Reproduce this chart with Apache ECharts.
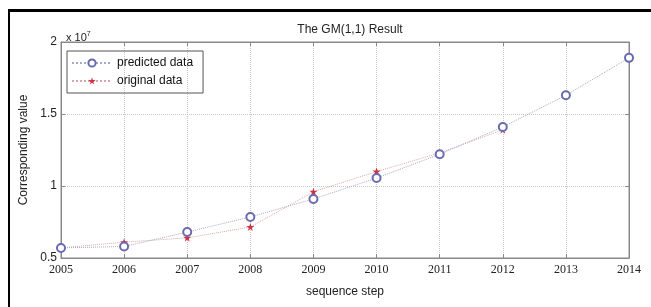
<!DOCTYPE html>
<html>
<head>
<meta charset="utf-8">
<script src="https://cdn.jsdelivr.net/npm/echarts@6/dist/echarts.min.js"></script>
<style>
	html, body { margin: 0; padding: 0; background: #fff; }
	#frame { position: absolute; left: 8px; top: 9px; width: 643px; height: 298px; border-left: 2px solid #000; border-top: 3px solid #000; }
	#chart { width: 651px; height: 307px; position: absolute; left: 0; top: 0; }
</style>
</head>
<body>
<div id="frame"></div>
<div id="chart"></div>
<script>
	// values in units of 10^7
	const years = [2005, 2006, 2007, 2008, 2009, 2010, 2011, 2012, 2013, 2014]
	const predicted = [0.57, 0.58, 0.68, 0.785, 0.91, 1.055, 1.22, 1.41, 1.63, 1.89]
	const original = [0.57, 0.61, 0.64, 0.715, 0.96, 1.10, 1.23, 1.39]

	const starPath = 'path://M4,0L5,3L8,3L5.5,5L6.5,8L4,6L1.5,8L2.5,5L0,3L3,3Z'
	const chart = echarts.init(document.getElementById('chart'))

	const option = {
		animation: false,
		title: [{
			text: 'The GM(1,1) Result',
			left: 345,
			top: 19,
			textAlign: 'center',
			textStyle: { fontFamily: 'Liberation Sans', fontSize: 12, fontWeight: 'normal', color: '#222' }
		}, {
			text: '{b|x 10}{s|7}',
			left: 61,
			top: 26,
			textStyle: {
				fontWeight: 'normal',
				rich: {
					b: { fontFamily: 'Liberation Sans', fontSize: 11, fontWeight: 'normal', color: '#222' },
					s: { fontFamily: 'Liberation Sans', fontSize: 7, fontWeight: 'normal', color: '#222', verticalAlign: 'top', padding: [0, 0, 6, 0] }
				}
			}
		}],
		legend: {
			orient: 'vertical',
			left: 67,
			top: 51,
			itemWidth: 40,
			itemHeight: 9,
			itemGap: 6,
			padding: [6, 10, 6, 4],
			borderColor: '#555',
			borderWidth: 1,
			textStyle: { fontFamily: 'Liberation Sans', fontSize: 12, color: '#111' },
			data: ['predicted data', 'original data']
		},
		grid: {
			left: 61, top: 42, right: 22, bottom: 49,
			show: true, borderColor: '#888', borderWidth: 1
		},
		xAxis: [{
			type: 'value',
			min: 2005, max: 2014, interval: 1,
			name: 'sequence step',
			nameLocation: 'middle',
			nameGap: 28,
			nameTextStyle: { fontFamily: 'Liberation Sans', fontSize: 12, color: '#222' },
			axisLine: { lineStyle: { color: '#888' } },
			axisTick: { inside: true, length: 4, lineStyle: { color: '#888' } },
			axisLabel: { fontFamily: 'Liberation Serif', fontSize: 12, color: '#222', margin: 6, formatter: v => String(v) },
			splitLine: { show: true, lineStyle: { color: '#c8c8c8', type: 'dotted' } }
		}, {
			type: 'value', position: 'top',
			min: 2005, max: 2014, interval: 1,
			axisLine: { lineStyle: { color: '#888' } },
			axisTick: { inside: true, length: 4, lineStyle: { color: '#888' } },
			axisLabel: { show: false },
			splitLine: { show: false }
		}],
		yAxis: [{
			type: 'value',
			min: 0.5, max: 2, interval: 0.5,
			name: 'Corresponding value',
			nameLocation: 'middle',
			nameGap: 27,
			nameTextStyle: { fontFamily: 'Liberation Sans', fontSize: 12, color: '#222' },
			axisLine: { lineStyle: { color: '#888' } },
			axisTick: { inside: true, length: 4, lineStyle: { color: '#888' } },
			axisLabel: { fontFamily: 'Liberation Sans', fontSize: 12, color: '#222', margin: 4 },
			splitLine: { show: true, lineStyle: { color: '#c8c8c8', type: 'dotted' } }
		}, {
			type: 'value', position: 'right',
			min: 0.5, max: 2, interval: 0.5,
			axisLine: { lineStyle: { color: '#888' } },
			axisTick: { inside: true, length: 4, lineStyle: { color: '#888' } },
			axisLabel: { show: false },
			splitLine: { show: false }
		}],
		series: [{
			name: 'predicted data',
			type: 'line',
			data: years.map((y, i) => [y, predicted[i]]),
			symbol: 'emptyCircle',
			symbolSize: 8,
			lineStyle: { color: '#a8a8c8', width: 1, type: 'dotted' },
			itemStyle: { color: '#6a6ab0', borderColor: '#6a6ab0', borderWidth: 1 },
			z: 3
		}, {
			name: 'original data',
			type: 'line',
			data: original.map((v, i) => [years[i], v]),
			symbol: starPath,
			symbolSize: 8,
			lineStyle: { color: '#d8a8a8', width: 1, type: 'dotted' },
			itemStyle: { color: '#d03040' },
			z: 2
		}]
	}
	chart.setOption(option)
</script>
</body>
</html>
